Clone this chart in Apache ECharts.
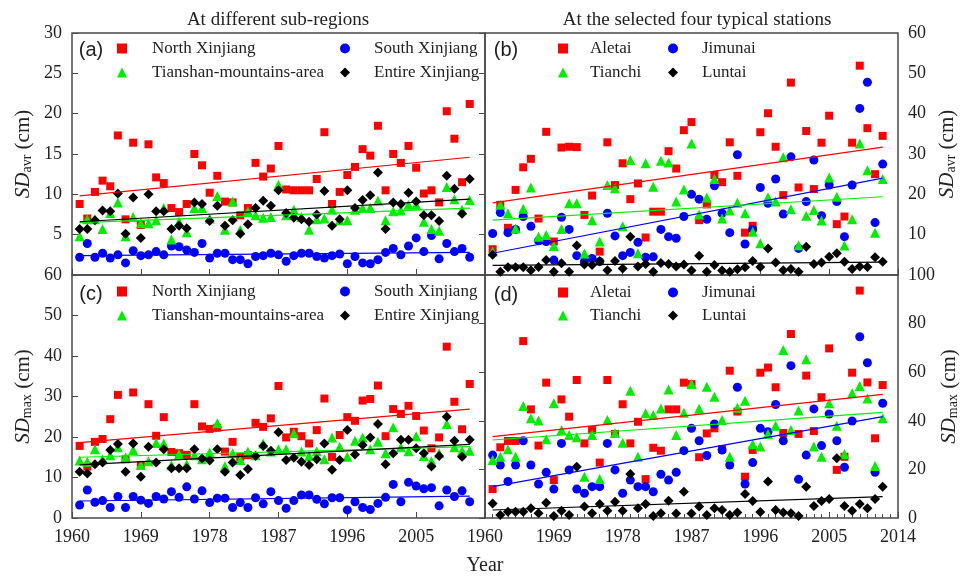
<!DOCTYPE html>
<html>
<head>
<meta charset="utf-8">
<title>Snow depth in Xinjiang</title>
<script src="https://cdn.jsdelivr.net/npm/echarts@6/dist/echarts.min.js"></script>
<style>
html,body{margin:0;padding:0;background:#fff;}
#main{width:965px;height:576px;}
</style>
</head>
<body>
<div id="main"></div>
<script>
'use strict';
// x axis starts at 1960, values are plotted as offsets from it
var baseYear = 1960;
var xTicks = [1960, 1969, 1978, 1987, 1996, 2005, 2014];
var years = [1961,1962,1963,1964,1965,1966,1967,1968,1969,1970,
	1971,1972,1973,1974,1975,1976,1977,1978,1979,1980,
	1981,1982,1983,1984,1985,1986,1987,1988,1989,1990,
	1991,1992,1993,1994,1995,1996,1997,1998,1999,2000,
	2001,2002,2003,2004,2005,2006,2007,2008,2009,2010,
	2011,2012];
var trendYears = [1961, 2012];

// (a) SDavr, sub-regions
var northAvr = [8.8,7.0,10.3,11.7,11.0,17.3,6.9,16.4,6.2,16.2, 12.1,11.4,8.3,7.8,8.8,15.0,13.6,10.2,12.3,9.1, 9.0,7.4,8.3,13.9,12.2,13.2,16.0,10.6,10.5,10.5, 10.5,11.9,17.7,8.8,10.3,12.4,13.4,15.6,14.8,18.5, 10.5,15.0,13.9,16.0,13.3,10.1,10.5,9.0,20.3,16.9, 11.5,21.2];
var southAvr = [2.2,3.9,2.2,2.7,2.1,2.5,1.5,3.0,2.4,2.5, 2.9,2.5,3.6,3.5,3.1,2.8,3.9,2.1,2.7,2.7, 1.9,1.9,1.4,2.3,2.4,2.7,2.5,1.7,2.4,2.7, 2.7,2.3,2.1,2.4,2.6,1.4,2.3,1.5,1.4,1.9, 2.8,3.3,2.5,3.6,4.6,2.9,4.9,2.0,3.9,2.9, 3.3,2.2];
var tianAvr = [4.8,6.9,6.9,5.7,7.7,9.0,4.8,7.2,6.4,6.4, 6.8,8.3,4.4,6.6,5.3,8.3,8.3,7.0,9.8,5.6, 9.1,5.6,7.9,7.4,7.1,7.2,11.2,7.4,8.1,7.2, 5.6,6.9,7.0,8.1,6.8,6.8,8.1,8.3,8.3,9.2, 6.8,7.9,8.0,8.7,8.7,6.6,5.7,5.5,10.9,9.4, 8.1,9.3];
var entireAvr = [5.7,5.7,6.8,8.0,7.9,10.1,5.1,9.6,4.6,10.0, 7.9,7.9,5.7,6.1,5.8,9.0,8.8,6.7,8.6,6.1, 6.8,5.1,6.3,8.3,9.2,8.6,10.5,7.7,7.1,6.9, 6.6,7.5,10.4,6.1,6.9,10.5,8.3,9.3,9.9,12.7, 5.7,9.0,8.8,10.2,9.1,7.4,7.4,6.7,12.3,10.7, 7.6,11.9];

// (b) SDavr, stations
var aletaiAvr = [6.4,17.4,11.7,21.1,26.7,28.8,14.0,35.5,8.3,31.6, 31.8,31.7,14.9,19.7,5.8,32.9,22.3,27.7,18.8,22.7, 9.3,15.7,15.7,30.7,26.4,35.9,37.9,13.6,17.5,24.8, 23.0,32.9,24.6,10.5,12.2,35.4,40.1,31.8,19.8,47.7, 21.7,35.7,21.3,32.8,39.5,12.6,14.5,32.8,51.9,36.4, 25.0,34.5];
var jimunaiAvr = [10.3,15.5,10.5,11.3,14.5,12.1,8.5,8.3,3.7,14.3, 11.3,4.8,3.3,4.1,3.3,15.3,9.7,4.8,5.6,8.1, 4.4,4.5,11.3,9.5,9.1,14.5,20.0,18.8,13.8,22.1, 15.3,10.5,29.8,7.7,11.3,21.7,17.8,23.8,15.1,29.3, 6.6,18.2,28.5,14.7,22.3,18.2,9.5,22.3,41.3,47.8, 13.0,27.5];
var tianchiAvr = [5.8,17.4,15.3,11.5,16.4,21.7,9.5,9.9,7.2,11.4, 17.8,17.8,5.3,13.6,8.3,22.3,21.5,12.1,28.5,5.4, 27.7,21.9,28.3,27.9,18.2,21.2,32.6,15.0,19.2,23.8, 14.0,16.0,17.9,15.3,10.7,7.9,19.3,18.2,29.2,16.3, 7.4,14.7,16.1,13.5,24.2,19.4,7.3,13.8,32.6,26.0, 10.5,23.8];
var luntaiAvr = [5.0,0.8,1.9,1.9,1.9,1.2,2.0,3.7,0.8,2.9, 0.8,7.3,2.6,2.5,3.5,1.2,3.5,1.6,9.5,2.1, 2.7,0.8,3.0,2.7,2.1,2.6,1.1,4.8,0.8,2.5, 1.1,0.8,1.4,1.9,3.5,2.0,6.6,3.1,1.2,1.5, 0.8,7.0,2.7,3.1,4.5,5.4,3.3,1.5,2.1,2.0, 4.4,3.3];

// (c) SDmax, sub-regions
var northMax = [17.8,12.7,18.8,19.5,24.4,30.4,14.5,31.0,13.0,28.1, 20.3,24.9,16.3,16.0,15.6,28.1,22.6,22.0,22.3,16.4, 18.8,15.1,15.5,23.5,22.5,24.6,32.6,19.9,21.3,20.2, 18.4,21.7,29.5,15.1,20.5,24.9,24.0,29.0,29.4,32.7, 20.2,26.9,25.7,27.7,25.2,21.6,17.2,19.9,42.3,28.7, 21.9,33.1];
var southMax = [3.2,6.9,3.9,4.3,2.6,5.3,2.6,5.3,4.4,3.6, 5.3,4.7,6.5,5.1,7.7,4.7,6.7,3.8,4.9,4.9, 2.6,3.8,2.6,5.0,3.5,6.5,4.3,2.4,4.3,5.7, 5.7,4.6,3.5,5.0,5.0,2.0,4.0,2.6,2.1,3.6, 5.1,8.3,4.0,8.8,7.9,7.2,7.5,3.0,6.9,5.3, 6.7,4.0];
var tianMax = [14.2,13.9,17.0,14.5,15.5,17.5,15.0,16.8,13.1,14.0, 18.5,18.4,13.0,15.8,13.3,15.5,14.5,16.2,23.4,12.8, 16.0,14.3,16.4,15.5,18.4,16.4,17.0,17.0,20.9,16.4, 15.3,16.5,14.5,19.9,17.6,15.1,19.1,19.9,17.0,18.8, 16.0,22.4,17.5,16.5,20.2,15.3,14.0,16.0,23.2,17.5, 16.6,16.6];
var entireMax = [11.4,11.0,13.3,13.7,16.8,18.3,11.4,18.4,10.2,17.6, 13.7,17.0,12.3,12.3,12.3,17.0,14.7,14.2,17.0,11.4, 13.7,10.6,12.1,15.3,17.8,16.6,21.2,14.3,14.9,13.9, 13.1,14.5,18.4,11.9,14.3,21.7,15.7,18.0,19.9,23.2, 13.3,16.0,19.3,19.3,17.2,16.0,12.7,15.3,25.0,19.1, 15.1,19.3];

// (d) SDmax, stations
var aletaiMax = [11.9,29.1,31.7,31.7,72.8,44.7,29.8,55.7,15.6,48.8, 41.7,56.8,30.7,36.2,22.8,56.8,34.6,46.8,30.7,39.6, 16.0,28.9,27.7,44.7,44.7,55.7,55.1,25.0,34.8,36.9, 28.4,60.6,43.8,17.0,28.0,59.8,61.9,53.8,35.0,75.7, 34.6,58.6,35.8,49.7,69.8,19.8,25.2,59.8,93.6,55.8, 32.8,54.7];
var jimunaiMax = [25.9,21.8,15.0,21.8,31.8,21.8,14.0,18.8,11.9,30.7, 19.8,11.9,10.2,12.9,12.9,30.7,19.8,10.2,15.6,12.9, 12.9,10.8,18.0,15.6,18.8,27.7,36.9,31.8,25.7,38.7, 28.0,21.8,53.8,14.0,22.8,36.9,35.5,46.7,31.8,62.7, 15.9,25.9,44.9,29.8,42.8,31.8,20.9,39.9,74.6,63.9, 18.8,47.2];
var tianchiMax = [23.9,25.2,28.3,25.2,46.1,41.0,40.1,32.4,47.2,36.2, 34.2,33.2,17.0,34.2,16.0,40.3,35.0,31.0,52.4,25.2, 43.1,42.4,45.1,52.9,34.2,43.3,55.1,45.0,54.0,49.9, 40.3,25.2,45.4,48.3,30.3,29.4,34.6,38.0,69.1,36.2, 44.2,65.3,29.4,25.2,47.2,38.0,26.3,51.3,54.3,49.2, 21.4,41.0];
var luntaiMax = [6.0,1.2,2.6,2.6,2.6,4.0,2.0,6.3,0.8,3.0, 1.2,21.1,4.7,2.0,5.8,3.0,6.7,3.0,18.1,4.0, 5.8,0.8,2.0,7.1,1.9,10.8,1.9,4.7,1.2,4.0, 3.3,1.2,2.3,9.9,7.0,2.5,15.0,3.3,2.3,2.0, 0.8,12.9,4.9,7.0,7.8,24.6,4.9,3.0,5.8,4.0, 7.8,12.9];

// trend lines, start (1961) and end (2012) values
var trendNorthAvr = [9.8, 14.6], trendSouthAvr = [2.4, 2.8], trendTianAvr = [6.5, 8.3], trendEntireAvr = [6.6, 9.4];
var trendAletaiAvr = [17.9, 31.7], trendJimunaiAvr = [5.4, 24.0], trendTianchiAvr = [13.6, 19.4], trendLuntaiAvr = [2.4, 3.2];
var trendNorthMax = [18.6, 26.9], trendSouthMax = [4.2, 5.4], trendTianMax = [15.0, 17.6], trendEntireMax = [13.1, 18.2];
var trendAletaiMax = [33.5, 50.9], trendJimunaiMax = [12.9, 41.7], trendTianchiMax = [32.1, 43.5], trendLuntaiMax = [3.3, 8.8];

var FONT = '"Liberation Serif", "Times New Roman", serif';
var SANS = '"Liberation Sans", Arial, sans-serif';
var RED = '#ff0000', BLUE = '#0000ff', GREEN = '#00ee00', BLACK = '#000000';
var FRAME = '#4a4a4a';

var pts = function(vals){
	return years.map(function(y, i){ return [y - baseYear, vals[i]]; });
};
var line = function(t){
	return [[trendYears[0] - baseYear, t[0]], [trendYears[1] - baseYear, t[1]]];
};

var scatter = function(name, vals, idx, symbol, size, color){
	return {
		name: name, type: 'scatter', xAxisIndex: idx, yAxisIndex: idx,
		symbol: symbol, symbolSize: size, itemStyle: {color: color, opacity: 1},
		data: pts(vals), silent: true
	};
};
var trend = function(t, idx, color){
	return {
		type: 'line', xAxisIndex: idx, yAxisIndex: idx, symbol: 'none',
		lineStyle: {color: color, width: 1.2}, data: line(t), silent: true, z: 3
	};
};

var legendItem = function(name, icon, cx, cy, gap){
	return {
		data: [{name: name, icon: icon}],
		left: cx - 5, top: cy - 10, padding: 0,
		itemWidth: 10, itemHeight: 10, selectedMode: false,
		textStyle: {fontFamily: FONT, fontSize: 17, color: '#222', padding: [0, 0, 0, gap - 10]}
	};
};

var grids = [
	{left: 72, top: 33, width: 413, height: 242},
	{left: 485, top: 33, width: 413, height: 242},
	{left: 72, top: 275, width: 413, height: 243},
	{left: 485, top: 275, width: 413, height: 243}
].map(function(g){
	g.show = true; g.borderColor = FRAME; g.borderWidth = 1.5;
	return g;
});

var xAxis = [0, 1, 2, 3].map(function(i){
	return {
		type: 'value', gridIndex: i, min: 0, max: xTicks[xTicks.length - 1] - baseYear,
		interval: xTicks[1] - xTicks[0],
		axisLine: {show: false}, splitLine: {show: false},
		axisTick: {show: true, inside: true, length: 6, lineStyle: {color: FRAME}},
		minorTick: {show: i === 3, splitNumber: 9, length: 4, lineStyle: {color: FRAME}},
		axisLabel: {
			show: i >= 2, margin: 10, showMaxLabel: i === 3,
			fontFamily: FONT, fontSize: 18, color: '#222',
			formatter: function(v){ return String(v + baseYear); }
		}
	};
});

var nameRich = {
	i: {fontFamily: FONT, fontStyle: 'italic', fontSize: 21, color: '#222', lineHeight: 22},
	s: {fontFamily: FONT, fontSize: 14, color: '#222', lineHeight: 10, verticalAlign: 'bottom'},
	n: {fontFamily: FONT, fontSize: 21, color: '#222', lineHeight: 22}
};
var yAxisDef = function(i, pos, max, step, label){
	return {
		type: 'value', gridIndex: i, position: pos, min: 0, max: max, interval: step,
		name: '{i|SD}{s|' + label + '}{n| (cm)}', nameLocation: 'middle', nameRotate: 90, nameGap: 38,
		nameTextStyle: {rich: nameRich},
		axisLine: {show: false}, splitLine: {show: false},
		axisTick: {show: true, inside: true, length: 6, lineStyle: {color: FRAME}},
		axisLabel: {margin: 10, showMinLabel: i >= 2, fontFamily: FONT, fontSize: 18, color: '#222'}
	};
};
var yAxis = [
	yAxisDef(0, 'left', 30, 5, 'avr'),
	yAxisDef(1, 'right', 60, 10, 'avr'),
	yAxisDef(2, 'left', 60, 10, 'max'),
	yAxisDef(3, 'right', 100, 20, 'max')
];

var series = [
	scatter('North Xinjiang', northAvr, 0, 'rect', 8, RED),
	scatter('South Xinjiang', southAvr, 0, 'circle', 9, BLUE),
	scatter('Tianshan-mountains-area', tianAvr, 0, 'triangle', 10, GREEN),
	scatter('Entire Xinjiang', entireAvr, 0, 'diamond', 10, BLACK),
	trend(trendNorthAvr, 0, RED), trend(trendSouthAvr, 0, BLUE),
	trend(trendTianAvr, 0, GREEN), trend(trendEntireAvr, 0, BLACK),

	scatter('Aletai', aletaiAvr, 1, 'rect', 8, RED),
	scatter('Jimunai', jimunaiAvr, 1, 'circle', 9, BLUE),
	scatter('Tianchi', tianchiAvr, 1, 'triangle', 10, GREEN),
	scatter('Luntai', luntaiAvr, 1, 'diamond', 10, BLACK),
	trend(trendAletaiAvr, 1, RED), trend(trendJimunaiAvr, 1, BLUE),
	trend(trendTianchiAvr, 1, GREEN), trend(trendLuntaiAvr, 1, BLACK),

	scatter('North Xinjiang', northMax, 2, 'rect', 8, RED),
	scatter('South Xinjiang', southMax, 2, 'circle', 9, BLUE),
	scatter('Tianshan-mountains-area', tianMax, 2, 'triangle', 10, GREEN),
	scatter('Entire Xinjiang', entireMax, 2, 'diamond', 10, BLACK),
	trend(trendNorthMax, 2, RED), trend(trendSouthMax, 2, BLUE),
	trend(trendTianMax, 2, GREEN), trend(trendEntireMax, 2, BLACK),

	scatter('Aletai', aletaiMax, 3, 'rect', 8, RED),
	scatter('Jimunai', jimunaiMax, 3, 'circle', 9, BLUE),
	scatter('Tianchi', tianchiMax, 3, 'triangle', 10, GREEN),
	scatter('Luntai', luntaiMax, 3, 'diamond', 10, BLACK),
	trend(trendAletaiMax, 3, RED), trend(trendJimunaiMax, 3, BLUE),
	trend(trendTianchiMax, 3, GREEN), trend(trendLuntaiMax, 3, BLACK)
];

var legend = [
	legendItem('North Xinjiang', 'rect', 122, 50, 30),
	legendItem('South Xinjiang', 'circle', 345, 50, 29),
	legendItem('Tianshan-mountains-area', 'triangle', 122, 74, 30),
	legendItem('Entire Xinjiang', 'diamond', 345, 74, 29),
	legendItem('Aletai', 'rect', 563, 50, 27),
	legendItem('Jimunai', 'circle', 673, 50, 29),
	legendItem('Tianchi', 'triangle', 563, 74, 27),
	legendItem('Luntai', 'diamond', 673, 74, 29),
	legendItem('North Xinjiang', 'rect', 122, 293, 30),
	legendItem('South Xinjiang', 'circle', 345, 293, 29),
	legendItem('Tianshan-mountains-area', 'triangle', 122, 317, 30),
	legendItem('Entire Xinjiang', 'diamond', 345, 317, 29),
	legendItem('Aletai', 'rect', 563, 294, 27),
	legendItem('Jimunai', 'circle', 673, 294, 29),
	legendItem('Tianchi', 'triangle', 563, 317, 27),
	legendItem('Luntai', 'diamond', 673, 317, 29)
];

var txt = function(s, x, y, size, family){
	return {
		type: 'text', x: x, y: y, silent: true,
		style: {text: s, fontFamily: family || FONT, fontSize: size, fill: '#222', align: 'center', verticalAlign: 'middle'}
	};
};

var option = {
	animation: false,
	backgroundColor: '#fff',
	grid: grids,
	xAxis: xAxis,
	yAxis: yAxis,
	legend: legend,
	series: series,
	graphic: [
		txt('At different sub-regions', 278, 20, 19),
		txt('At the selected four typical stations', 697, 20, 19),
		txt('(a)', 91, 50, 20, SANS),
		txt('(b)', 506, 50, 20, SANS),
		txt('(c)', 91, 294, 20, SANS),
		txt('(d)', 506, 295, 20, SANS),
		txt('Year', 485, 566, 20)
	]
};

var myChart = echarts.init(document.getElementById('main'));
myChart.setOption(option);
</script>
</body>
</html>
